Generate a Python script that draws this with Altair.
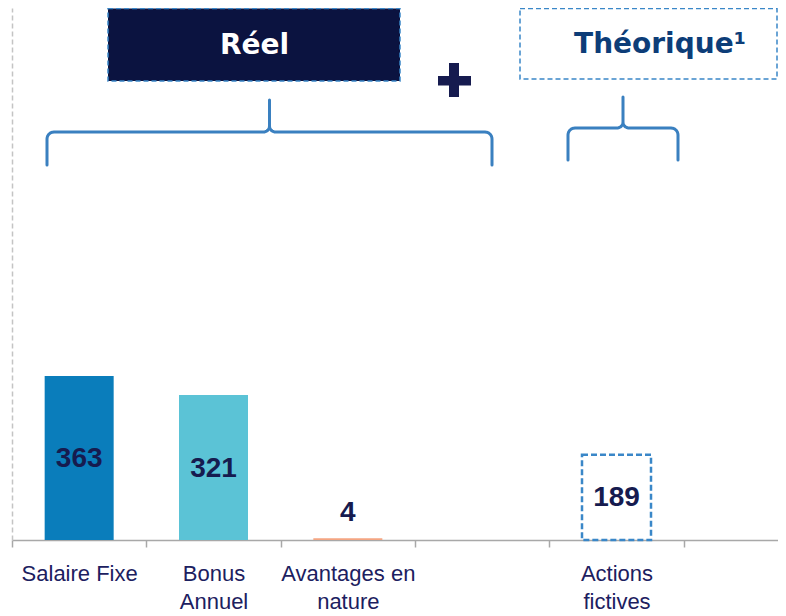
import math
import altair as alt
import pandas as pd

# ---- data -------------------------------------------------------------
categories = ["Salaire Fixe", "Bonus|Annuel", "Avantages en|nature", " ", "Actions|fictives", "  "]
bar_categories = ["Salaire Fixe", "Bonus|Annuel", "Avantages en|nature", "Actions|fictives"]
bar_values = [363, 321, 4, 189]
bar_kind = ["reel", "reel", "reel", "theorique"]
bar_colors = ["#0a7dbb", "#5bc3d6", "#f4a582", "#3a87c8"]

header_reel = "Réel"
header_theo = "Théorique¹"

NAVY = "#161b4f"
LABEL_FONT = "Liberation Sans Narrow, Arial Narrow, Liberation Sans, Arial"

df = pd.DataFrame({
    "cat": bar_categories,
    "value": bar_values,
    "kind": bar_kind,
    "color": bar_colors,
})

x_scale = alt.Scale(domain=categories, range=[0, 806], paddingInner=0, paddingOuter=0)
y_scale = alt.Scale(domain=[0, 1178], nice=False, zero=True)

x_axis = alt.Axis(
    title=None, labelAngle=0, labelExpr="split(datum.label, '|')",
    labelFont=LABEL_FONT, labelFontSize=22, labelColor="#1c2060",
    labelLineHeight=28, labelPadding=16, labelOverlap=False, labelLimit=0,
    tickBand="extent", tickSize=7, tickWidth=1.5, tickColor="#a8a8a8",
    domainColor="#a8a8a8", domainWidth=1.5, grid=False,
)
y_axis = alt.Axis(
    title=None, labels=False, ticks=False, grid=False,
    domainColor="#c4c4c4", domainDash=[5, 3], domainWidth=1.5,
)

base = alt.Chart(df)

solid = base.transform_filter(alt.datum.kind == "reel").mark_bar(width=69).encode(
    x=alt.X("cat:N", scale=x_scale, axis=x_axis, sort=categories),
    y=alt.Y("value:Q", scale=y_scale, axis=y_axis),
    color=alt.Color("color:N", scale=None),
)

dashed = base.transform_filter(alt.datum.kind == "theorique").mark_bar(
    width=69, fillOpacity=0, strokeWidth=2.5, strokeDash=[6, 3]
).encode(
    x=alt.X("cat:N", scale=x_scale, sort=categories),
    y=alt.Y("value:Q", scale=y_scale),
    stroke=alt.Color("color:N", scale=None),
)

labels = base.transform_calculate(
    ly="datum.value < 50 ? 61 : datum.value / 2"
).mark_text(
    font=LABEL_FONT, fontSize=28, fontWeight="bold", color=NAVY, baseline="middle", dy=1
).encode(
    x=alt.X("cat:N", scale=x_scale, sort=categories),
    y=alt.Y("ly:Q", scale=y_scale),
    text=alt.Text("value:Q"),
)

main = alt.layer(solid, dashed, labels)

# ---- decorations (pixel space) ---------------------------------------
one = pd.DataFrame({"k": [0]})


def arc(cx, cy, r, a0, a1, n=8):
    pts = []
    for j in range(n + 1):
        a = math.radians(a0 + (a1 - a0) * j / n)
        pts.append((cx + r * math.cos(a), cy + r * math.sin(a)))
    return pts


def brace(x0, x1, yt, yb, ytip, r=7, rm=6):
    xm = (x0 + x1) / 2
    pts = [(x0, yb)]
    pts += arc(x0 + r, yt + r, r, 180, 270)
    pts += arc(xm - rm, yt - rm, rm, 90, 0)
    pts.append((xm, ytip))
    pts += arc(xm + rm, yt - rm, rm, 180, 90)
    pts += arc(x1 - r, yt + r, r, 270, 360)
    pts.append((x1, yb))
    return pts


rows = []
for name, spec in [("reel", (35, 480, 124, 157, 92)), ("theo", (556, 666, 120, 152, 89))]:
    for i, (px, py) in enumerate(brace(*spec)):
        rows.append({"brace": name, "i": i, "px": px, "py": py})
brace_df = pd.DataFrame(rows)

braces = alt.Chart(brace_df).mark_line(
    color="#3a80c0", strokeWidth=3, strokeCap="round", strokeJoin="round"
).encode(
    x=alt.X("px:Q", scale=None, axis=None),
    y=alt.Y("py:Q", scale=None, axis=None),
    order="i:Q",
    detail="brace:N",
)

box_reel = alt.Chart(one).mark_rect(
    fill="#0b1340", stroke="#3a87c8", strokeWidth=1.5, strokeDash=[5, 3]
).encode(x=alt.value(96), x2=alt.value(388), y=alt.value(0.5), y2=alt.value(73))

box_theo = alt.Chart(one).mark_rect(
    fill="white", fillOpacity=0, stroke="#3a87c8", strokeWidth=1.5, strokeDash=[5, 3]
).encode(x=alt.value(508), x2=alt.value(765), y=alt.value(0.5), y2=alt.value(71))

txt_reel = alt.Chart(one).mark_text(
    font="DejaVu Sans", fontSize=28, fontWeight="bold", color="white", baseline="middle"
).encode(x=alt.value(242.5), y=alt.value(38), text=alt.value(header_reel))

txt_theo = alt.Chart(one).mark_text(
    font="DejaVu Sans", fontSize=28, fontWeight="bold", color="#0d3d78", baseline="middle"
).encode(x=alt.value(648), y=alt.value(37), text=alt.value(header_theo))

plus_h = alt.Chart(one).mark_rect(color=NAVY).encode(
    x=alt.value(426), x2=alt.value(459), y=alt.value(68), y2=alt.value(77.5))
plus_v = alt.Chart(one).mark_rect(color=NAVY).encode(
    x=alt.value(437), x2=alt.value(447), y=alt.value(55), y2=alt.value(89))

decor = alt.layer(box_reel, box_theo, txt_reel, txt_theo, plus_h, plus_v, braces)

chart = alt.layer(main, decor).resolve_scale(x="independent", y="independent").properties(
    width=766,
    height=532,
    autosize=alt.AutoSizeParams(type="none"),
    padding={"left": 4, "top": 0, "right": 0, "bottom": 72},
).configure_view(stroke=None)

chart.save("out.html", embed_options={"renderer": "svg", "actions": False})
